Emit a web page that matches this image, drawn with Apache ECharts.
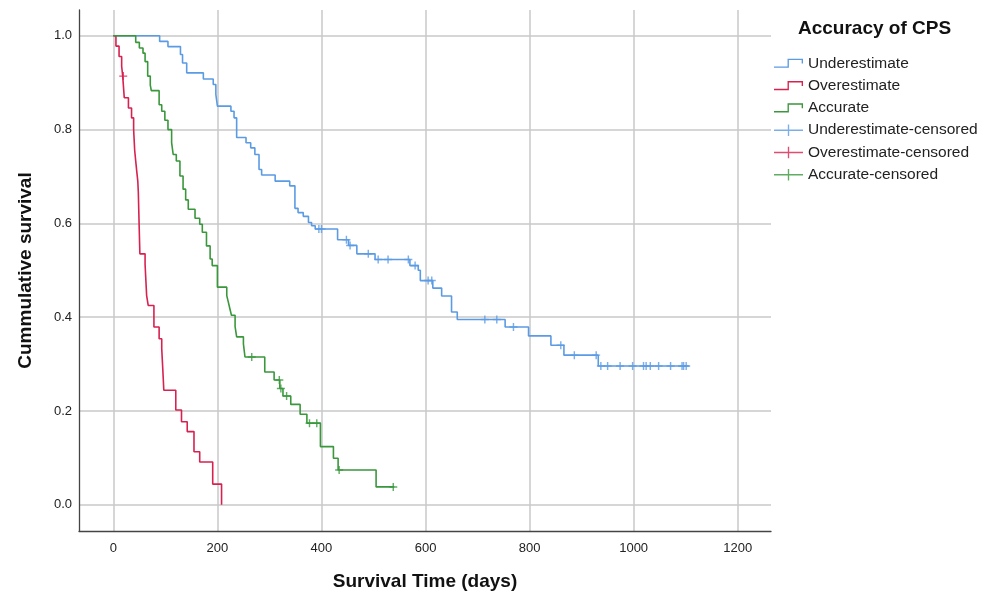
<!DOCTYPE html>
<html>
<head>
<meta charset="utf-8">
<script src="https://cdn.jsdelivr.net/npm/echarts@6/dist/echarts.min.js"></script>
<style>
  html, body { margin: 0; padding: 0; background: #ffffff; }
  #chart { width: 994px; height: 596px; }
</style>
</head>
<body>
<div id="chart"></div>
<script>
// ---- Data ----
const groupNames = ['Underestimate', 'Overestimate', 'Accurate'];
const censorNames = ['Underestimate-censored', 'Overestimate-censored', 'Accurate-censored'];

// Underestimate: step times (days) and survival after each step
const underTime = [0, 89, 105, 129, 133, 141, 173, 192, 197, 200, 226, 232, 237, 255, 264, 272, 280, 285, 311, 339, 349, 355, 365, 375, 381, 388, 431, 452, 468, 503, 570, 586, 590, 614, 631, 650, 661, 753, 798, 841, 866, 932, 1107];
const underSurv = [1.0, 0.988, 0.977, 0.96, 0.942, 0.921, 0.908, 0.896, 0.875, 0.85, 0.839, 0.825, 0.783, 0.772, 0.761, 0.747, 0.715, 0.703, 0.69, 0.68, 0.632, 0.623, 0.615, 0.602, 0.595, 0.588, 0.565, 0.553, 0.535, 0.523, 0.51, 0.50, 0.478, 0.462, 0.445, 0.411, 0.395, 0.379, 0.36, 0.34, 0.319, 0.296, 0.296];
const underCensTime = [395, 400, 448, 455, 490, 509, 528, 567, 580, 605, 612, 714, 737, 769, 860, 886, 928, 937, 950, 974, 998, 1019, 1024, 1032, 1048, 1071, 1093, 1096, 1101];
const underCensSurv = [0.588, 0.588, 0.565, 0.553, 0.535, 0.523, 0.523, 0.523, 0.51, 0.478, 0.478, 0.395, 0.395, 0.379, 0.34, 0.319, 0.319, 0.296, 0.296, 0.296, 0.296, 0.296, 0.296, 0.296, 0.296, 0.296, 0.296, 0.296, 0.296];

// Overestimate
const overTime = [0, 5, 11, 16, 18, 21, 29, 35, 39, 40, 41, 43, 45, 47, 48, 49, 50, 51, 61, 62, 63, 64, 67, 78, 88, 93, 94, 95, 96, 97, 120, 131, 142, 155, 166, 191, 208];
const overSurv = [1.0, 0.978, 0.956, 0.935, 0.914, 0.868, 0.846, 0.825, 0.80, 0.778, 0.756, 0.733, 0.711, 0.69, 0.667, 0.622, 0.578, 0.535, 0.513, 0.49, 0.468, 0.446, 0.425, 0.379, 0.354, 0.333, 0.311, 0.29, 0.267, 0.244, 0.202, 0.177, 0.156, 0.113, 0.091, 0.044, 0.0];
const overCensTime = [19];
const overCensSurv = [0.914];

// Accurate
const accTime = [0, 43, 50, 57, 61, 66, 71, 73, 88, 93, 99, 105, 112, 115, 121, 128, 134, 139, 144, 157, 166, 171, 179, 186, 190, 200, 218, 221, 224, 227, 234, 237, 250, 253, 291, 309, 320, 326, 341, 359, 372, 398, 423, 432, 505, 540];
const accSurv = [1.0, 0.986, 0.974, 0.963, 0.945, 0.914, 0.895, 0.883, 0.853, 0.839, 0.82, 0.80, 0.772, 0.747, 0.733, 0.701, 0.673, 0.65, 0.63, 0.611, 0.598, 0.581, 0.552, 0.524, 0.51, 0.464, 0.446, 0.432, 0.418, 0.404, 0.38, 0.358, 0.343, 0.315, 0.283, 0.266, 0.248, 0.232, 0.214, 0.193, 0.174, 0.124, 0.099, 0.074, 0.038, 0.038];
const accCensTime = [266, 319, 322, 333, 377, 391, 434, 538];
const accCensSurv = [0.315, 0.266, 0.248, 0.232, 0.174, 0.174, 0.074, 0.038];

// Tick labels
const xTicks = [0, 200, 400, 600, 800, 1000, 1200];
const yTicks = [0, 0.2, 0.4, 0.6, 0.8, 1.0];

// ---- Styling ----
const colors = ['#5b9be3', '#d8214f', '#3a973c'];
const FONT = '"Liberation Sans", Arial, sans-serif';
const stepIcon = 'path://M0,8H14V0H30V5H28.6V1.4H15.4V9.4H0Z';
const crossIcon = 'path://M0,5.3H30V6.7H0Z M14.3,0H15.7V12H14.3Z';
const censorSymbol = 'path://M0,4.1H10V5.9H0Z M4.1,0H5.9V10H4.1Z';

function zip(a, b) { return a.map((v, i) => [v, b[i]]); }

const lineSets = [[underTime, underSurv], [overTime, overSurv], [accTime, accSurv]];
const censSets = [[underCensTime, underCensSurv], [overCensTime, overCensSurv], [accCensTime, accCensSurv]];

const series = [];
lineSets.forEach((s, i) => {
  series.push({
    name: groupNames[i], type: 'line', step: 'end', showSymbol: false, symbol: 'none',
    data: zip(s[0], s[1]), color: colors[i],
    lineStyle: { color: colors[i], width: 1.6 }, z: 3
  });
});
censSets.forEach((s, i) => {
  series.push({
    name: censorNames[i], type: 'scatter', symbol: censorSymbol, symbolSize: 8,
    data: zip(s[0], s[1]), color: colors[i],
    itemStyle: { color: colors[i] }, z: 4
  });
});

const legendData = groupNames.map((n, i) => ({ name: n, icon: stepIcon, itemStyle: { color: colors[i], borderWidth: 0 } }))
  .concat(censorNames.map((n, i) => ({ name: n, icon: crossIcon, itemStyle: { color: colors[i], borderWidth: 0 } })));

const chart = echarts.init(document.getElementById('chart'), null, { renderer: 'canvas' });
chart.setOption({
  animation: false,
  backgroundColor: '#ffffff',
  title: {
    text: 'Accuracy of CPS', left: 798, top: 18, padding: 0,
    textStyle: { fontFamily: FONT, fontSize: 19, fontWeight: 'bold', color: '#111', lineHeight: 22 }
  },
  legend: {
    orient: 'vertical', left: 774, top: 54.3, padding: 0,
    itemWidth: 29, itemHeight: 12, itemGap: 4.3,
    textStyle: { fontFamily: FONT, fontSize: 15.5, color: '#222', lineHeight: 18 },
    data: legendData
  },
  grid: { left: 79, top: 10, right: 223, bottom: 63, containLabel: false },
  xAxis: {
    type: 'value', min: -66, max: 1264,
    name: 'Survival Time (days)', nameLocation: 'middle', nameGap: 41,
    nameTextStyle: { fontFamily: FONT, fontSize: 19, fontWeight: 'bold', color: '#111' },
    axisLine: { show: true, onZero: false, lineStyle: { color: '#444', width: 1.3 } },
    axisTick: { show: false, customValues: xTicks },
    axisLabel: { customValues: xTicks, fontFamily: FONT, fontSize: 13, color: '#222', margin: 11,
      formatter: v => String(Math.round(v)) },
    splitLine: { show: true, lineStyle: { color: '#c8c8c8', width: 1.5 } }
  },
  yAxis: {
    type: 'value', min: -0.056, max: 1.055,
    name: 'Cummulative survival', nameLocation: 'middle', nameGap: 44, nameRotate: 90,
    nameTextStyle: { fontFamily: FONT, fontSize: 19, fontWeight: 'bold', color: '#111' },
    axisLine: { show: true, onZero: false, lineStyle: { color: '#444', width: 1.3 } },
    axisTick: { show: false, customValues: yTicks },
    axisLabel: { customValues: yTicks, fontFamily: FONT, fontSize: 13, color: '#222', margin: 7,
      formatter: v => v.toFixed(1) },
    splitLine: { show: true, lineStyle: { color: '#c8c8c8', width: 1.5 } }
  },
  series: series
});
</script>
</body>
</html>
